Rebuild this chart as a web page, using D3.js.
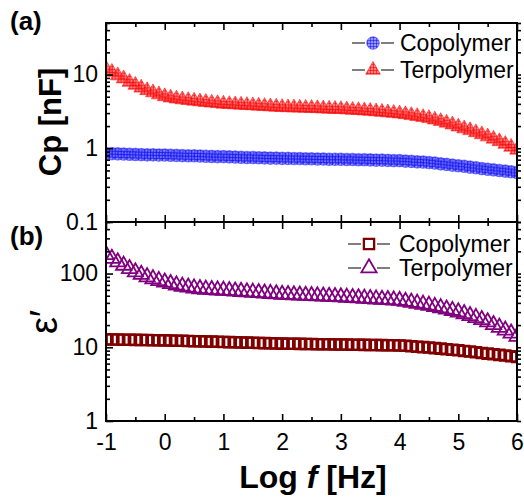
<!DOCTYPE html>
<html>
<head>
<meta charset="utf-8">
<script src="https://cdn.jsdelivr.net/npm/d3@7"></script>
<style>
  body { margin: 0; background: #fff; }
  svg { font-family: "Liberation Sans", Arial, sans-serif; }
</style>
</head>
<body>
<svg id="chart" width="524" height="500"></svg>
<script>
// Frequency grid, log10(f) from -1 to 6, 10 points per decade
const logFreq = d3.range(71).map(i => +(-1 + i / 10).toFixed(1));

// (a) capacitance, nF
const cpCopolymer = [
  0.85, 0.845, 0.84, 0.835, 0.83, 0.825, 0.82, 0.815, 0.815, 0.81,
  0.81, 0.805, 0.8, 0.795, 0.79, 0.79, 0.785, 0.78, 0.775, 0.77,
  0.77, 0.765, 0.76, 0.755, 0.75, 0.75, 0.745, 0.74, 0.735, 0.735,
  0.73, 0.73, 0.725, 0.725, 0.72, 0.72, 0.715, 0.715, 0.71, 0.71,
  0.71, 0.705, 0.705, 0.7, 0.7, 0.695, 0.69, 0.69, 0.685, 0.68,
  0.68, 0.67, 0.665, 0.655, 0.65, 0.64, 0.63, 0.615, 0.605, 0.59,
  0.58, 0.57, 0.555, 0.545, 0.53, 0.52, 0.51, 0.5, 0.49, 0.48,
  0.47
];
const cpTerpolymer = [
  12.0, 10.8, 9.7, 8.8, 7.9, 7.2, 6.6, 6.1, 5.7, 5.35,
  5.05, 4.85, 4.7, 4.58, 4.48, 4.39, 4.3, 4.22, 4.14, 4.07,
  4.0, 3.96, 3.92, 3.88, 3.84, 3.8, 3.76, 3.72, 3.68, 3.64,
  3.6, 3.58, 3.56, 3.54, 3.52, 3.5, 3.48, 3.45, 3.42, 3.4,
  3.38, 3.35, 3.31, 3.28, 3.24, 3.2, 3.15, 3.1, 3.05, 3.0,
  2.95, 2.88, 2.8, 2.72, 2.64, 2.55, 2.44, 2.33, 2.21, 2.09,
  1.96, 1.85, 1.75, 1.64, 1.54, 1.44, 1.34, 1.24, 1.14, 1.04,
  0.95
];

// (b) permittivity
const epsCopolymer = [
  12.8, 12.76, 12.72, 12.68, 12.64, 12.6, 12.56, 12.52, 12.48, 12.44,
  12.4, 12.34, 12.28, 12.22, 12.16, 12.1, 12.04, 11.98, 11.92, 11.86,
  11.8, 11.74, 11.68, 11.62, 11.56, 11.5, 11.44, 11.38, 11.32, 11.26,
  11.2, 11.17, 11.14, 11.11, 11.08, 11.05, 11.02, 10.99, 10.96, 10.93,
  10.9, 10.87, 10.84, 10.81, 10.78, 10.75, 10.72, 10.69, 10.66, 10.63,
  10.6, 10.46, 10.32, 10.18, 10.04, 9.9, 9.74, 9.58, 9.42, 9.26,
  9.1, 8.92, 8.74, 8.56, 8.38, 8.2, 8.04, 7.88, 7.72, 7.56,
  7.4
];
const epsTerpolymer = [
  180, 160, 143, 129, 116, 105, 97, 90, 84.5, 80,
  76, 72.5, 69.5, 67, 65, 63.3, 62, 61, 60.2, 59.6,
  59, 58.3, 57.6, 56.9, 56.2, 55.5, 54.8, 54.1, 53.4, 52.7,
  52, 51.6, 51.2, 50.8, 50.4, 50, 49.6, 49.2, 48.8, 48.4,
  48, 47.5, 47, 46.5, 46, 45.5, 45, 44.5, 44, 43.5,
  43, 41.8, 40.6, 39.4, 38.2, 37, 35.6, 34.2, 32.8, 31.4,
  30, 28.4, 26.8, 25.2, 23.6, 22, 20.2, 18.6, 17.0, 15.5,
  14
];

const xTicks = [-1, 0, 1, 2, 3, 4, 5, 6];
const xMinorTicks = [-0.5, 0.5, 1.5, 2.5, 3.5, 4.5, 5.5];
const cpTicks = [0.1, 1, 10];
const epsTicks = [1, 10, 100];
const seriesNames = ['Copolymer', 'Terpolymer'];

// layout
const plot = { left: 106, right: 517, top: 23, mid: 222, bottom: 421 };
const svg = d3.select('#chart');
const x = d3.scaleLinear().domain([-1, 6]).range([plot.left, plot.right]);
const yA = d3.scaleLog().domain([0.1, 50]).range([plot.mid, plot.top]);
const yB = d3.scaleLog().domain([1, 500]).range([plot.bottom, plot.mid]);
const plain = d => String(d); // keep "-1" with a hyphen, like the original

// hatch fills for the solid markers
const defs = svg.append('defs');
function addGrid(id, bg, line) {
  const p = defs.append('pattern').attr('id', id)
    .attr('patternUnits', 'userSpaceOnUse').attr('width', 3).attr('height', 3);
  p.append('rect').attr('width', 3).attr('height', 3).attr('fill', bg);
  p.append('path').attr('d', 'M0 0.5H3M0.5 0V3')
    .attr('stroke', line).attr('stroke-width', 0.8);
}
addGrid('gridBlue', 'rgba(80,80,255,0.6)', 'rgba(0,0,230,0.6)');
addGrid('gridRed', 'rgba(255,60,60,0.65)', 'rgba(240,0,0,0.7)');

defs.append('clipPath').attr('id', 'clipA').append('rect')
  .attr('x', plot.left).attr('y', plot.top)
  .attr('width', plot.right - plot.left).attr('height', plot.mid - plot.top);
defs.append('clipPath').attr('id', 'clipB').append('rect')
  .attr('x', plot.left).attr('y', plot.mid)
  .attr('width', plot.right - plot.left).attr('height', plot.bottom - plot.mid);

const styles = {
  circle: { type: d3.symbolCircle, size: 125, fill: 'url(#gridBlue)', stroke: 'rgba(40,40,255,0.6)', sw: 0.8 },
  triFill: { type: d3.symbolTriangle, size: 95, fill: 'url(#gridRed)', stroke: 'rgba(255,20,20,0.7)', sw: 0.8 },
  square: { type: d3.symbolSquare, size: 105, fill: 'none', stroke: '#800000', sw: 2.3 },
  triOpen: { type: d3.symbolTriangle, size: 100, fill: 'none', stroke: '#800080', sw: 1.8 }
};

function drawSeries(values, y, st, clip) {
  const sym = d3.symbol().type(st.type).size(st.size);
  svg.append('g').attr('clip-path', `url(#${clip})`)
    .selectAll('path').data(values).join('path')
    .attr('d', sym)
    .attr('transform', (d, i) => `translate(${x(logFreq[i])},${y(d)})`)
    .attr('fill', st.fill).attr('stroke', st.stroke).attr('stroke-width', st.sw);
}

drawSeries(cpCopolymer, yA, styles.circle, 'clipA');
drawSeries(cpTerpolymer, yA, styles.triFill, 'clipA');
drawSeries(epsCopolymer, yB, styles.square, 'clipB');
drawSeries(epsTerpolymer, yB, styles.triOpen, 'clipB');

// minor ticks for a log scale: 2..9 in every decade inside the domain
function logMinors(y) {
  const [lo, hi] = y.domain();
  const out = [];
  for (let e = Math.floor(Math.log10(lo)); e <= Math.ceil(Math.log10(hi)); e++) {
    for (let k = 2; k <= 9; k++) {
      const v = k * Math.pow(10, e);
      if (v > lo && v <= hi) out.push(v);
    }
  }
  return out;
}

function styleAxis(g) {
  g.select('.domain').remove();
  g.selectAll('line').attr('stroke', '#000').attr('stroke-width', 1.6);
  g.selectAll('text').attr('font-size', 23).attr('fill', '#000')
    .attr('font-family', '"Liberation Sans", Arial, sans-serif');
}

function drawFrame(y, majors, top, bottom, showX) {
  const minors = logMinors(y).filter(v => !majors.includes(v));
  // left
  svg.append('g').attr('transform', `translate(${plot.left},0)`)
    .call(d3.axisLeft(y).tickValues(majors).tickSizeInner(-7).tickSizeOuter(0)
      .tickPadding(8).tickFormat(plain))
    .call(styleAxis);
  svg.append('g').attr('transform', `translate(${plot.left},0)`)
    .call(d3.axisLeft(y).tickValues(minors).tickSizeInner(-4).tickSizeOuter(0).tickFormat(''))
    .call(styleAxis);
  // right
  svg.append('g').attr('transform', `translate(${plot.right},0)`)
    .call(d3.axisRight(y).tickValues(majors.concat(minors)).tickSizeInner(4).tickSizeOuter(0).tickFormat(''))
    .call(styleAxis);
  // top and bottom, ticks pointing inward
  svg.append('g').attr('transform', `translate(0,${top})`)
    .call(d3.axisTop(x).tickValues(xTicks).tickSizeInner(-7).tickSizeOuter(0).tickFormat(''))
    .call(styleAxis);
  svg.append('g').attr('transform', `translate(0,${top})`)
    .call(d3.axisTop(x).tickValues(xMinorTicks).tickSizeInner(-4).tickSizeOuter(0).tickFormat(''))
    .call(styleAxis);
  svg.append('g').attr('transform', `translate(0,${bottom})`)
    .call(d3.axisBottom(x).tickValues(xTicks).tickSizeInner(-7).tickSizeOuter(0)
      .tickPadding(13).tickFormat(showX ? plain : ''))
    .call(styleAxis);
  svg.append('g').attr('transform', `translate(0,${bottom})`)
    .call(d3.axisBottom(x).tickValues(xMinorTicks).tickSizeInner(-4).tickSizeOuter(0).tickFormat(''))
    .call(styleAxis);
  svg.append('rect')
    .attr('x', plot.left).attr('y', top)
    .attr('width', plot.right - plot.left).attr('height', bottom - top)
    .attr('fill', 'none').attr('stroke', '#000').attr('stroke-width', 2);
}

drawFrame(yA, cpTicks, plot.top, plot.mid, false);
drawFrame(yB, epsTicks, plot.mid, plot.bottom, true);

// legends
function drawLegend(rows, y0, dy, x0, x1, tx) {
  rows.forEach((st, i) => {
    const cy = y0 + i * dy;
    const mx = (x0 + x1) / 2;
    const g = svg.append('g');
    g.append('line').attr('x1', x0).attr('x2', mx - 8).attr('y1', cy).attr('y2', cy)
      .attr('stroke', '#555').attr('stroke-width', 1.5);
    g.append('line').attr('x1', mx + 8).attr('x2', x1).attr('y1', cy).attr('y2', cy)
      .attr('stroke', '#555').attr('stroke-width', 1.5);
    g.append('path').attr('d', d3.symbol().type(st.type).size(st.size))
      .attr('transform', `translate(${mx},${cy})`)
      .attr('fill', st.fill).attr('stroke', st.stroke).attr('stroke-width', st.sw);
    g.append('text').attr('x', tx).attr('y', cy).attr('dy', '0.35em')
      .attr('font-size', 23).text(seriesNames[i]);
  });
}
drawLegend([styles.circle, styles.triFill], 43, 27, 352, 394, 400);
drawLegend([styles.square, styles.triOpen], 244, 24, 348, 390, 399);

// axis titles and panel letters
svg.append('text').attr('transform', 'translate(61,122) rotate(-90)')
  .attr('text-anchor', 'middle').attr('font-size', 31).attr('font-weight', 'bold')
  .text('Cp [nF]');
svg.append('text').attr('transform', 'translate(57,322) rotate(-90)')
  .attr('text-anchor', 'middle').attr('font-size', 38)
  .text('ε′');
const xTitle = svg.append('text').attr('x', 313).attr('y', 488)
  .attr('text-anchor', 'middle').attr('font-size', 32).attr('font-weight', 'bold');
xTitle.append('tspan').text('Log ');
xTitle.append('tspan').attr('font-style', 'italic').text('f');
xTitle.append('tspan').text(' [Hz]');
svg.append('text').attr('x', 10).attr('y', 30).attr('font-size', 26)
  .attr('font-weight', 'bold').text('(a)');
svg.append('text').attr('x', 10).attr('y', 245).attr('font-size', 26)
  .attr('font-weight', 'bold').text('(b)');
</script>
</body>
</html>
